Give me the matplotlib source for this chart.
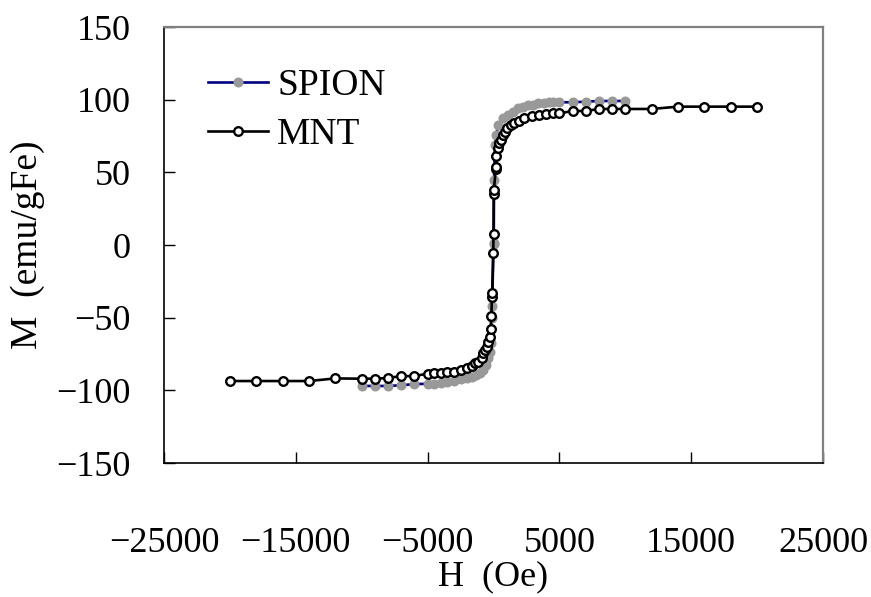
import numpy as np
import matplotlib
matplotlib.use("Agg")
import matplotlib.pyplot as plt

# magnetisation loops, H in Oe, M in emu/gFe
spion_h = [-10000, -9000, -8000, -7000, -6000, -5000, -4500, -4000, -3500, -3000,
           -2500, -2000, -1650, -1300, -1000, -770, -590, -390, -265, -210,
           -150, -100, 0, 20, 40, 110, 200, 365, 745, 1120, 1500, 1880, 2260,
           2640, 3000, 3400, 3800, 4200, 4500, 5000, 6000, 7000, 8000, 9000, 10000]
spion_m = [-97.0, -97.0, -97.0, -96.5, -95.7, -95.5, -95.3, -95.0, -94.0, -93.5,
           -92.5, -91.8, -90.6, -89.5, -88.3, -86.0, -82.6, -78.0, -73.4, -67.7,
           -50.0, -42.0, 0.7, 1.2, 44.7, 68.8, 75.7, 82.6, 87.2, 89.5, 91.8, 94.0, 95.2,
           96.3, 96.3, 97.5, 98.0, 98.2, 98.2, 98.2, 98.2, 98.6, 99.1, 99.1, 99.1]

mnt_h = [-20000, -18000, -16000, -14000, -12000, -10000, -9000, -8000, -7000, -6000,
         -5000, -4500, -4000, -3500, -3000, -2500, -2000, -1650, -1400, -1150,
         -900, -770, -645, -520, -390, -300, -220, -160, -120, -100, -20, 0,
         20, 30, 170, 180, 200, 365, 450, 550, 700, 870, 1050, 1300, 1550, 1900,
         2350, 2900, 3450, 4000, 4500, 5000, 6000, 7000, 8000, 9000, 10000,
         12000, 14000, 16000, 18000, 20000]
mnt_m = [-93.6, -93.6, -93.6, -93.6, -91.8, -92.0, -92.0, -91.5, -90.2, -90.2,
         -88.5, -88.0, -88.0, -87.2, -87.2, -86.0, -84.9, -83.3, -81.4, -80.3,
         -78.0, -74.5, -72.3, -70.0, -66.5, -63.0, -58.0, -49.0, -36.0, -33.0, -5.5, 7.6,
         35.0, 38.0, 52.0, 54.0, 61.0, 66.5, 70.0, 72.3, 75.7, 78.0, 80.3, 82.6, 84.2, 85.4,
         87.2, 88.8, 89.5, 90.2, 90.6, 90.6, 92.2, 92.2, 93.6, 93.6, 93.6,
         93.6, 95.2, 95.2, 95.2, 95.2]

x_ticks = [-25000, -15000, -5000, 5000, 15000, 25000]
y_ticks = [-150, -100, -50, 0, 50, 100, 150]

font = "Liberation Serif"
fs = 26


def fmt(v):
    return str(v).replace("-", "\u2212")


fig = plt.figure(figsize=(8.71, 5.97), dpi=100)
ax = fig.add_axes([164 / 871, 1 - 463 / 597, 659 / 871, 436 / 597])

ax.plot(spion_h, spion_m, color="#000080", lw=1.9, marker="o", ms=6.2,
        mfc="#999999", mec="#999999", mew=1.0, label="SPION")
ax.plot(mnt_h, mnt_m, color="black", lw=1.9, marker="o", ms=6.2,
        mfc="white", mec="black", mew=1.7, label="MNT")

ax.set_xlim(-25000, 25000)
ax.set_ylim(-150, 150)
ax.set_xticks(x_ticks)
ax.set_yticks(y_ticks)
ax.set_xticklabels([fmt(t) for t in x_ticks])
ax.set_yticklabels([fmt(t) for t in y_ticks])

ax.tick_params(direction="in", length=8, width=1)
ax.tick_params(axis="y", pad=24)
ax.tick_params(axis="x", pad=46)
for lab in ax.get_xticklabels() + ax.get_yticklabels():
    lab.set_family(font)
    lab.set_fontsize(fs)

for side in ["left", "bottom"]:
    ax.spines[side].set_color("black")
    ax.spines[side].set_linewidth(1.2)
for side in ["top", "right"]:
    ax.spines[side].set_color("#808080")
    ax.spines[side].set_linewidth(1.6)

ax.set_xlabel("H  (Oe)", family=font, fontsize=fs)
ax.xaxis.set_label_coords(0.5, -0.2225)
ax.set_ylabel("M  (emu/gFe)", family=font, fontsize=27)
ax.yaxis.set_label_coords(-0.18, 0.5)

leg = ax.legend(loc="upper left", bbox_to_anchor=(0.044, 0.94), frameon=False,
                prop={"family": font, "size": 27}, handlelength=1.6,
                handletextpad=0.25, labelspacing=0.4, borderaxespad=0)

fig.savefig("out.png", dpi=100)
